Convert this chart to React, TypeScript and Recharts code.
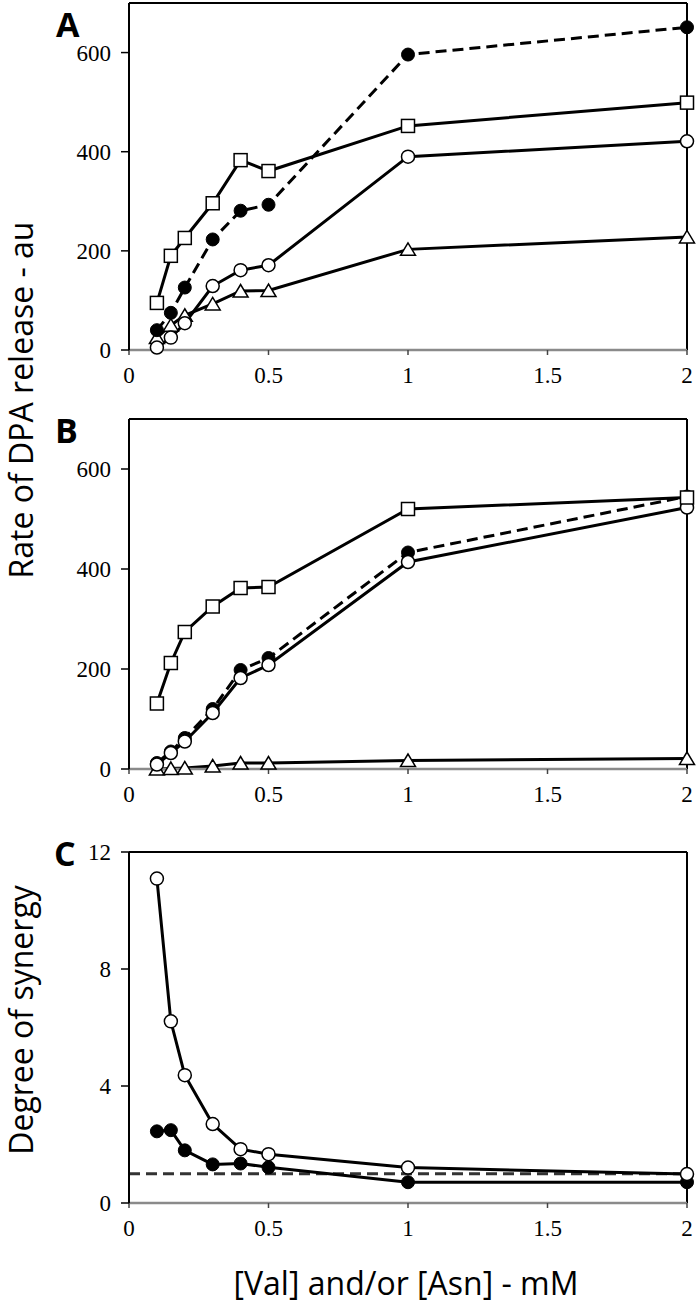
import React from "react";
import { LineChart, Line, XAxis, YAxis, ReferenceLine } from "recharts";

// [Val] and/or [Asn] concentrations, mM
const concentrations = [0.1, 0.15, 0.2, 0.3, 0.4, 0.5, 1, 2];
const xTicks = [0, 0.5, 1, 1.5, 2];

// panel A - rate of DPA release (au)
const aSquares = [95, 190, 226, 296, 383, 361, 452, 499];
const aFilled = [40, 75, 126, 223, 281, 293, 596, 651];
const aOpen = [5, 25, 54, 129, 161, 171, 390, 421];
const aTriangles = [25, 50, 70, 93, 119, 120, 203, 228];

// panel B - rate of DPA release (au)
const bSquares = [131, 212, 274, 325, 362, 364, 520, 543];
const bFilled = [12, 35, 62, 120, 198, 222, 433, 545];
const bOpen = [9, 32, 55, 112, 182, 208, 414, 523];
const bTriangles = [0, 1, 2, 6, 12, 12, 17, 21];

// panel C - degree of synergy
const cOpen = [11.09, 6.21, 4.37, 2.7, 1.84, 1.67, 1.21, 0.99];
const cFilled = [2.45, 2.49, 1.8, 1.32, 1.35, 1.22, 0.71, 0.71];
const synergyBaseline = 1;

const rateTicks = [0, 200, 400, 600];
const synergyTicks = [0, 4, 8, 12];

const serif = "'Liberation Serif', 'Times New Roman', serif";
const sans = "'Open Sans', 'Liberation Sans', sans-serif";

const openCircle = (p: any) => (
  <circle key={`o${p.index}`} cx={p.cx} cy={p.cy} r={6.5} fill="#fff" stroke="#000" strokeWidth={1.5} />
);
const filledCircle = (p: any) => (
  <circle key={`f${p.index}`} cx={p.cx} cy={p.cy} r={6.5} fill="#000" stroke="#000" strokeWidth={1} />
);
const square = (p: any) => (
  <rect key={`s${p.index}`} x={p.cx - 6.5} y={p.cy - 6.5} width={13} height={13} fill="#fff" stroke="#000" strokeWidth={1.5} />
);
const triangle = (p: any) => (
  <polygon
    key={`t${p.index}`}
    points={`${p.cx},${p.cy - 6.5} ${p.cx - 7.5},${p.cy + 6} ${p.cx + 7.5},${p.cy + 6}`}
    fill="#fff"
    stroke="#000"
    strokeWidth={1.5}
  />
);

// tick labels drawn by hand so the serif face sticks
const XTick = ({ x, y, payload }: any) => (
  <text x={x} y={y + 17} textAnchor="middle" fontFamily={serif} fontSize={23} style={{ fontFamily: serif }} fill="#000">
    {payload.value}
  </text>
);
const YTick = ({ x, y, payload }: any) => (
  <text x={x} y={y + 8} textAnchor="end" fontFamily={serif} fontSize={23} style={{ fontFamily: serif }} fill="#000">
    {payload.value}
  </text>
);

type Series = { key: string; values: number[]; dot: (p: any) => React.ReactElement; dashed?: boolean };

const Panel = ({
  top, height, marginTop, axisHeight, series, yMax, yTicks, baseline,
}: {
  top: number; height: number; marginTop: number; axisHeight: number;
  series: Series[]; yMax: number; yTicks: number[]; baseline?: number;
}) => {
  const rows = concentrations.map((x, i) => {
    const row: Record<string, number> = { x };
    series.forEach((s) => (row[s.key] = s.values[i]));
    return row;
  });
  return (
    <div style={{ position: "absolute", left: 0, top }}>
      <LineChart width={700} height={height} data={rows} margin={{ top: marginTop, right: 13, bottom: 0, left: 0 }}>
        <XAxis
          dataKey="x"
          type="number"
          domain={[0, 2]}
          ticks={xTicks}
          interval={0}
          height={axisHeight}
          axisLine={{ stroke: "#8a8a8a", strokeWidth: 2.5 }}
          tickLine={{ stroke: "#444", strokeWidth: 1.5 }}
          tickSize={5}
          tickMargin={11}
          tick={<XTick />}
        />
        <YAxis
          type="number"
          domain={[0, yMax]}
          ticks={yTicks}
          interval={0}
          width={129}
          axisLine={{ stroke: "#000", strokeWidth: 2 }}
          tickLine={{ stroke: "#000", strokeWidth: 1.5 }}
          tickSize={8}
          tickMargin={10}
          tick={<YTick />}
        />
        <ReferenceLine x={2} stroke="#000" strokeWidth={2} />
        <ReferenceLine y={yMax} stroke="#000" strokeWidth={2} />
        {baseline !== undefined && (
          <ReferenceLine y={baseline} stroke="#333" strokeWidth={3} strokeDasharray="11 6" />
        )}
        {series.map((s) => (
          <Line
            key={s.key}
            type="linear"
            dataKey={s.key}
            stroke="#000"
            strokeWidth={3}
            strokeDasharray={s.dashed ? "11 6" : undefined}
            dot={s.dot}
            activeDot={false}
            isAnimationActive={false}
          />
        ))}
      </LineChart>
    </div>
  );
};

export default function App() {
  return (
    <div style={{ position: "absolute", left: 0, top: 0, width: 700, height: 1306, background: "#fff" }}>
      <Panel
        top={0}
        height={400}
        marginTop={3}
        axisHeight={50}
        yMax={700}
        yTicks={rateTicks}
        series={[
          { key: "tri", values: aTriangles, dot: triangle },
          { key: "open", values: aOpen, dot: openCircle },
          { key: "filled", values: aFilled, dot: filledCircle, dashed: true },
          { key: "sq", values: aSquares, dot: square },
        ]}
      />
      <Panel
        top={400}
        height={430}
        marginTop={19}
        axisHeight={61}
        yMax={700}
        yTicks={rateTicks}
        series={[
          { key: "tri", values: bTriangles, dot: triangle },
          { key: "filled", values: bFilled, dot: filledCircle, dashed: true },
          { key: "open", values: bOpen, dot: openCircle },
          { key: "sq", values: bSquares, dot: square },
        ]}
      />
      <Panel
        top={830}
        height={476}
        marginTop={22}
        axisHeight={103}
        yMax={12}
        yTicks={synergyTicks}
        baseline={synergyBaseline}
        series={[
          { key: "filled", values: cFilled, dot: filledCircle },
          { key: "open", values: cOpen, dot: openCircle },
        ]}
      />
      <svg
        width={700}
        height={1306}
        style={{ position: "absolute", left: 0, top: 0, pointerEvents: "none" }}
      >
        <g style={{ fontFamily: sans, fontWeight: 700, fontSize: 34 }} fill="#000">
          <text x={56} y={37}>A</text>
          <text x={55} y={443}>B</text>
          <text x={54} y={866}>C</text>
        </g>
        <g style={{ fontFamily: sans, fontSize: 32 }} fill="#000" textAnchor="middle">
          <text x={20} y={400} dominantBaseline="central" transform="rotate(-90 20 400)">
            Rate of DPA release - au
          </text>
          <text x={20} y={1020} dominantBaseline="central" transform="rotate(-90 20 1020)">
            Degree of synergy
          </text>
          <text x={406} y={1295}>[Val] and/or [Asn] - mM</text>
        </g>
      </svg>
    </div>
  );
}
